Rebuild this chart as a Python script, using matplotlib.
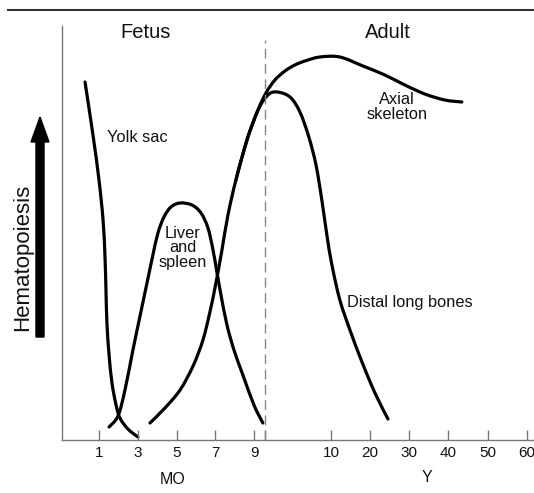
import numpy as np
import matplotlib
matplotlib.use("Agg")
import matplotlib.pyplot as plt
from matplotlib.path import Path
from matplotlib.patches import PathPatch, FancyArrow
from matplotlib.lines import Line2D
import matplotlib.transforms as mtransforms

plt.rcParams['font.family'] = ['Liberation Sans', 'DejaVu Sans']

# ---- data (x in "age position": months 1..9 = 1..9, birth ~9.56, years mapped after) ----
month_ticks = [1, 3, 5, 7, 9]
year_ticks = [10, 20, 30, 40, 50, 60]
birth_pos = 9.56

def year_pos(y):
    return 12.96 + (y - 10) * 0.202

yolk_x = [0.28, 0.69, 1.00, 1.21, 1.31, 1.36, 1.41, 1.52, 1.67, 1.88, 2.08, 2.49, 3.01]
yolk_y = [89.5, 76.25, 65.0, 55.0, 45.75, 37.5, 29.25, 21.25, 14.25, 8.75, 5.5, 2.75, 0.75]

liver_x = [1.52, 1.98, 2.34, 2.75, 3.16, 3.53, 3.78, 4.04, 4.35, 4.71, 5.18, 5.79,
           6.26, 6.62, 6.88, 7.08, 7.29, 7.60, 7.96, 8.42, 8.99, 9.45]
liver_y = [3.25, 6.0, 12.5, 22.5, 32.0, 40.5, 46.25, 51.75, 55.75, 58.25, 59.25, 58.75,
           56.75, 53.0, 47.5, 42.0, 36.25, 28.75, 22.5, 16.25, 8.75, 4.25]

distal_x = [3.63, 4.40, 5.18, 5.85, 6.36, 6.72, 7.03, 7.34, 7.65, 8.06, 8.63, 9.20, 9.71,
            10.18, 10.85, 11.36, 11.82, 12.19, 12.49, 12.75, 13.01, 13.42, 13.94, 14.56,
            15.23, 15.90]
distal_y = [4.25, 8.0, 12.5, 18.5, 25.0, 32.0, 39.25, 47.5, 56.25, 65.0, 75.0, 82.5, 86.25,
            87.0, 85.75, 82.0, 75.75, 68.75, 60.0, 51.25, 43.75, 35.0, 27.5, 19.5,
            11.75, 5.25]

axial_x = [8.06, 8.63, 9.20, 9.61, 10.07, 10.59, 11.10, 11.62, 12.39, 13.42, 14.61,
           15.74, 16.77, 17.80, 18.83, 19.71]
axial_y = [65.0, 75.0, 82.5, 86.75, 90.0, 92.25, 93.75, 94.75, 95.75, 95.75, 93.5,
           91.25, 88.75, 86.5, 85.0, 84.5]

W, H = 534, 493
fig = plt.figure(figsize=(W / 100, H / 100), dpi=100)
ax = fig.add_axes([62 / W, 53 / H, (W - 62) / W, (440 - 26) / H])
ax.set_xlim(-0.907, 23.43)
ax.set_ylim(0, 103.5)

for s in ['top', 'right']:
    ax.spines[s].set_visible(False)
for s in ['left', 'bottom']:
    ax.spines[s].set_color('#777777')
    ax.spines[s].set_linewidth(1.0)
ax.set_yticks([])

xt = month_ticks + [birth_pos] + [year_pos(y) for y in year_ticks]
xl = [str(m) for m in month_ticks] + [''] + [str(y) for y in year_ticks]
ax.set_xticks(xt)
ax.set_xticklabels(xl)
ax.tick_params(axis='x', direction='in', length=7, width=1, color='#777777',
               labelsize=11, pad=4, labelcolor='#111111')
for lab in ax.get_xticklabels():
    lab.set_clip_on(False)


def smooth(xs, ys):
    p = np.column_stack([xs, ys]).astype(float)
    n = len(p)
    verts = [p[0]]
    codes = [Path.MOVETO]
    for i in range(n - 1):
        p0 = p[i - 1] if i > 0 else p[i]
        p1 = p[i]
        p2 = p[i + 1]
        p3 = p[i + 2] if i + 2 < n else p[i + 1]
        c1 = p1 + (p2 - p0) / 6.0
        c2 = p2 - (p3 - p1) / 6.0
        verts += [c1, c2, p2]
        codes += [Path.CURVE4] * 3
    return Path(verts, codes)


for xs, ys in [(yolk_x, yolk_y), (liver_x, liver_y), (distal_x, distal_y), (axial_x, axial_y)]:
    ax.add_patch(PathPatch(smooth(xs, ys), facecolor='none', edgecolor='black',
                           lw=2.3, capstyle='round', joinstyle='round', clip_on=False))

ax.plot([birth_pos, birth_pos], [0, 100], color='#888888', lw=1.0,
        dashes=(7, 4), clip_on=False)

tc = '#111111'
lf = 11.8
ax.text(3.42, 101.75, 'Fetus', ha='center', va='center', fontsize=14.5, color=tc)
ax.text(15.90, 101.75, 'Adult', ha='center', va='center', fontsize=14.5, color=tc)
ax.text(1.41, 75.5, 'Yolk sac', ha='left', va='center', fontsize=lf, color=tc)
ax.text(5.33, 48, 'Liver\nand\nspleen', ha='center', va='center', fontsize=lf,
        color=tc, linespacing=0.95)
ax.text(16.36, 83.25, 'Axial\nskeleton', ha='center', va='center', fontsize=lf,
        color=tc, linespacing=0.95)
ax.text(13.78, 34.25, 'Distal long bones', ha='left', va='center', fontsize=lf, color=tc)
ax.text(4.82, -10, 'MO', ha='center', va='center', fontsize=11.5, color=tc, clip_on=False)
ax.text(17.91, -9.5, 'Y', ha='center', va='center', fontsize=11.5, color=tc, clip_on=False)

# decorative elements (figure pixel coordinates)
fig.add_artist(Line2D([8 / W, 1], [1 - 10 / H, 1 - 10 / H], transform=fig.transFigure,
                      color='#333333', lw=1.5))
fig.text(23 / W, 1 - 257 / H, 'Hematopoiesis', rotation=90, ha='center', va='center',
         fontsize=16, color=tc)
fig.add_artist(FancyArrow(40, H - 337, 0, 337 - 117, width=8, head_width=18,
                          head_length=25, length_includes_head=True,
                          transform=mtransforms.IdentityTransform(),
                          color='black'))

fig.savefig('out.png', dpi=100)
